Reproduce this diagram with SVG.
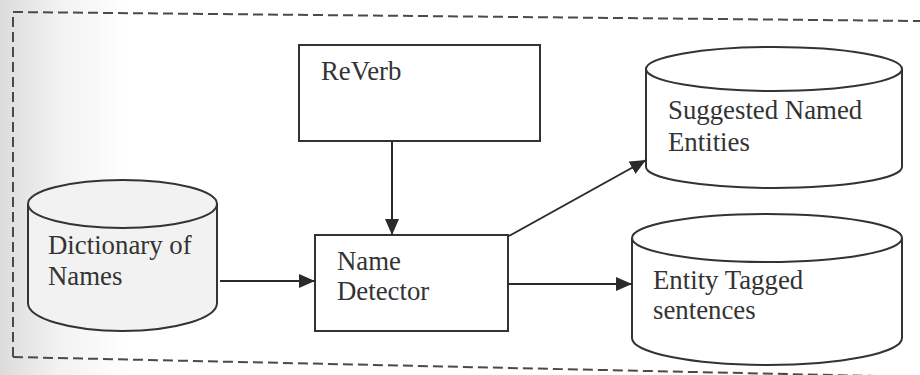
<svg xmlns="http://www.w3.org/2000/svg" width="920" height="375" viewBox="0 0 920 375">
<defs>
<linearGradient id="shade" x1="0" y1="0" x2="1" y2="0">
<stop offset="0" stop-color="#dcdcdc"/>
<stop offset="0.45" stop-color="#f2f2f2"/>
<stop offset="1" stop-color="#ffffff"/>
</linearGradient>
<marker id="arrow" markerWidth="16" markerHeight="14" refX="16" refY="7" orient="auto" markerUnits="userSpaceOnUse">
<path d="M0,0 L16,7 L0,14 Z" fill="#2a2a2a"/>
</marker>
<style>
.box{fill:#ffffff;stroke:#333333;stroke-width:2}
.cyl{fill:#ffffff;stroke:#333333;stroke-width:2}
.dict{fill:#f2f2f2}
.lbl{font-family:"Liberation Serif","Times New Roman",serif;font-size:26.8px;fill:#333333}
.conn{stroke:#2a2a2a;stroke-width:2;fill:none;marker-end:url(#arrow)}
.frame{stroke:#4a4a4a;stroke-width:2;fill:none;stroke-dasharray:10 5}
</style>
</defs>
<rect width="920" height="375" fill="#ffffff"/>
<rect x="0" y="0" width="130" height="375" fill="url(#shade)"/>
<g id="frame">
<path class="frame" d="M13,357 L13,12 L920,21"/>
<path class="frame" d="M13,357 L920,377"/>
</g>
<g id="reverb">
<rect class="box" x="299" y="45" width="241" height="96"/>
<text class="lbl" x="321" y="80">ReVerb</text>
</g>
<g id="name-detector">
<rect class="box" x="315" y="235" width="193" height="96"/>
<text class="lbl" x="337" y="270">Name</text>
<text class="lbl" x="337" y="300">Detector</text>
</g>
<g id="dictionary">
<path class="cyl dict" d="M28,204 L28,303 A94.5,28 0 0 0 217,303 L217,204"/>
<ellipse class="cyl dict" cx="122.5" cy="204" rx="94.5" ry="24"/>
<text class="lbl" x="48" y="254">Dictionary of</text>
<text class="lbl" x="48" y="285">Names</text>
</g>
<g id="suggested">
<path class="cyl" d="M646,69 L646,167 A128,21 0 0 0 902,167 L902,69"/>
<ellipse class="cyl" cx="774" cy="69" rx="128" ry="22"/>
<text class="lbl" x="668" y="119">Suggested Named</text>
<text class="lbl" x="668" y="151">Entities</text>
</g>
<g id="entity-tagged">
<path class="cyl" d="M632,238 L632,338 A135,27 0 0 0 902,338 L902,238"/>
<ellipse class="cyl" cx="767" cy="238" rx="135" ry="24"/>
<text class="lbl" x="653" y="289">Entity Tagged</text>
<text class="lbl" x="653" y="319">sentences</text>
</g>
<g id="connectors">
<line class="conn" x1="392" y1="141" x2="392" y2="235"/>
<line class="conn" x1="220" y1="281" x2="315" y2="281"/>
<line class="conn" x1="509" y1="236" x2="646" y2="160"/>
<line class="conn" x1="508" y1="284" x2="632" y2="284"/>
</g>
</svg>
